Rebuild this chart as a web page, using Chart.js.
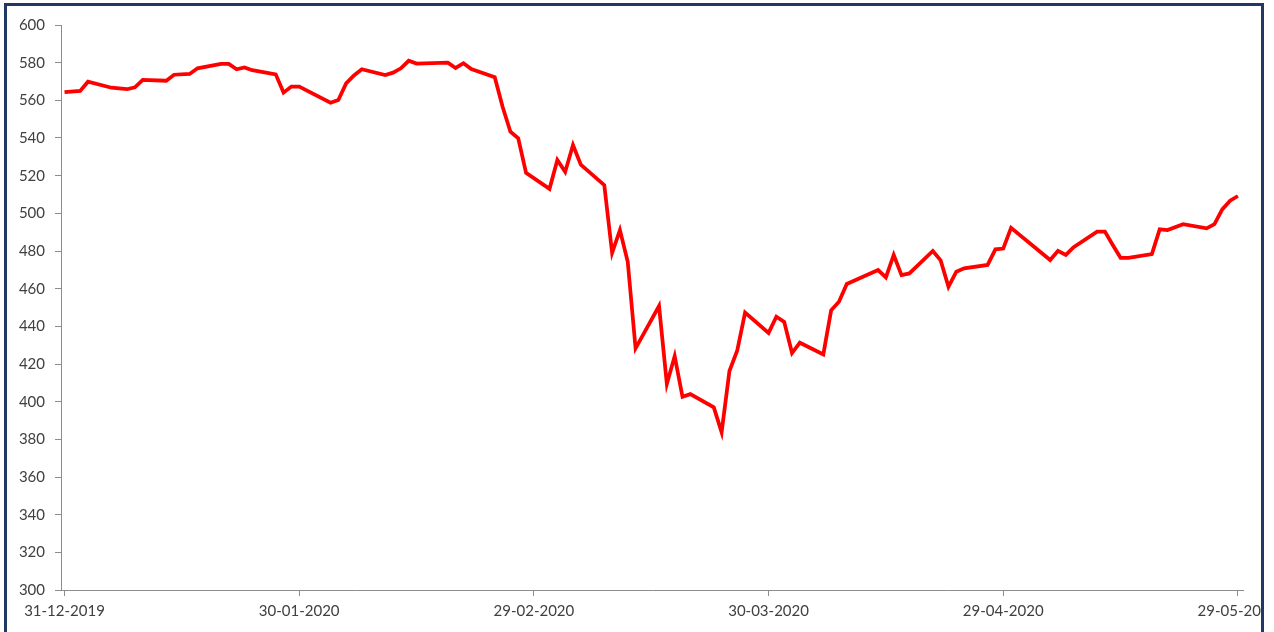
<!DOCTYPE html>
<html>
<head>
<meta charset="utf-8">
<script src="https://cdn.jsdelivr.net/npm/chart.js@4"></script>
<style>
  body { margin: 0; background: #fff; }
  #frame {
    position: absolute; left: 4px; top: 3px;
    width: 1254px; height: 700px;
    border: 3px solid #1f3864;
    overflow: hidden;
  }
  #inner { position: absolute; left: -7px; top: -6px; }
</style>
</head>
<body>
<div id="frame"><div id="inner"><canvas id="chart" width="1320" height="632"></canvas></div></div>
<script>
// dati (giorni di borsa, valore di chiusura)
const dates = [
  '31-12-2019', '02-01-2020', '03-01-2020', '06-01-2020', '08-01-2020', '09-01-2020', '10-01-2020',
  '13-01-2020', '14-01-2020', '16-01-2020', '17-01-2020', '20-01-2020', '21-01-2020', '22-01-2020',
  '23-01-2020', '24-01-2020', '27-01-2020', '28-01-2020', '29-01-2020', '30-01-2020', '03-02-2020',
  '04-02-2020', '05-02-2020', '06-02-2020', '07-02-2020', '10-02-2020', '11-02-2020', '12-02-2020',
  '13-02-2020', '14-02-2020', '18-02-2020', '19-02-2020', '20-02-2020', '21-02-2020', '24-02-2020',
  '25-02-2020', '26-02-2020', '27-02-2020', '28-02-2020', '02-03-2020', '03-03-2020', '04-03-2020',
  '05-03-2020', '06-03-2020', '09-03-2020', '10-03-2020', '11-03-2020', '12-03-2020', '13-03-2020',
  '16-03-2020', '17-03-2020', '18-03-2020', '19-03-2020', '20-03-2020', '23-03-2020', '24-03-2020',
  '25-03-2020', '26-03-2020', '27-03-2020', '30-03-2020', '31-03-2020', '01-04-2020', '02-04-2020',
  '03-04-2020', '06-04-2020', '07-04-2020', '08-04-2020', '09-04-2020', '13-04-2020', '14-04-2020',
  '15-04-2020', '16-04-2020', '17-04-2020', '20-04-2020', '21-04-2020', '22-04-2020', '23-04-2020',
  '24-04-2020', '27-04-2020', '28-04-2020', '29-04-2020', '30-04-2020', '05-05-2020', '06-05-2020',
  '07-05-2020', '08-05-2020', '11-05-2020', '12-05-2020', '13-05-2020', '14-05-2020', '15-05-2020',
  '18-05-2020', '19-05-2020', '20-05-2020', '22-05-2020', '25-05-2020', '26-05-2020', '27-05-2020',
  '28-05-2020', '29-05-2020'
];

const values = [
  564.3, 565.0, 569.9, 566.7, 565.9, 566.9, 570.8,
  570.4, 573.6, 574.0, 577.0, 579.3, 579.3, 576.5,
  577.5, 576.0, 573.8, 564.1, 567.3, 567.3, 558.7,
  560.2, 569.0, 573.2, 576.5, 573.4, 574.7, 577.0,
  581.0, 579.5, 580.0, 577.2, 579.7, 576.6, 572.3,
  556.6, 543.3, 539.8, 521.5, 513.0, 528.3, 522.0,
  536.3, 525.8, 515.0, 479.0, 491.1, 474.3, 428.3,
  450.8, 409.4, 424.2, 402.6, 404.0, 397.0, 383.8,
  416.3, 427.2, 447.3, 436.5, 445.1, 442.4, 425.8,
  431.3, 425.1, 448.5, 453.1, 462.5, 469.9, 466.0,
  477.9, 467.2, 468.1, 480.0, 475.0, 461.0, 469.0,
  470.8, 472.6, 480.9, 481.3, 492.3, 475.2, 480.1,
  477.9, 482.0, 490.3, 490.3, 483.2, 476.4, 476.4,
  478.4, 491.5, 491.1, 494.2, 492.0, 494.3, 502.1,
  506.7, 509.2
];

const tickDates = ['31-12-2019', '30-01-2020', '29-02-2020', '30-03-2020', '29-04-2020', '29-05-2020'];
const yTicks = { min: 300, max: 600, step: 20 };

const toUTC = s => {
  const [d, m, y] = s.split('-').map(Number);
  return Date.UTC(y, m - 1, d);
};
const start = toUTC(dates[0]);
const dayOf = s => Math.round((toUTC(s) - start) / 86400000);

const points = dates.map((d, i) => ({ x: dayOf(d), y: values[i] }));
const tickDays = tickDates.map(dayOf);
const labelOf = {};
tickDates.forEach(d => { labelOf[dayOf(d)] = d; });

const font = { family: 'Lato, "Open Sans", sans-serif', size: 15 };
const axisGrey = '#8c8c8c';

const ctx = document.getElementById('chart').getContext('2d');

const chart = new Chart(ctx, {
  type: 'line',
  data: {
    datasets: [{
      data: points,
      borderColor: '#ff0000',
      borderWidth: 3.75,
      pointRadius: 0,
      tension: 0,
      fill: false
    }]
  },
  options: {
    responsive: false,
    animation: false,
    layout: { padding: { left: 0, top: 25, right: 77, bottom: 0 } },
    plugins: { legend: { display: false }, tooltip: { enabled: false } },
    scales: {
      x: {
        type: 'linear',
        min: -0.45,
        max: 150.65,
        afterFit: scale => { scale.height = 42; },
        afterBuildTicks: scale => { scale.ticks = tickDays.map(v => ({ value: v })); },
        border: { color: axisGrey, width: 1 },
        grid: { drawOnChartArea: false, drawTicks: true, tickLength: 6, color: axisGrey },
        ticks: {
          maxRotation: 0,
          autoSkip: false,
          padding: 6,
          color: '#404040',
          font,
          callback: v => labelOf[v] || ''
        }
      },
      y: {
        min: yTicks.min,
        max: yTicks.max,
        afterFit: scale => { scale.width = 61; },
        border: { color: axisGrey, width: 1 },
        grid: { drawOnChartArea: false, drawTicks: true, tickLength: 6, color: axisGrey },
        ticks: { stepSize: yTicks.step, padding: 10, color: '#404040', font }
      }
    }
  }
});
</script>
</body>
</html>
